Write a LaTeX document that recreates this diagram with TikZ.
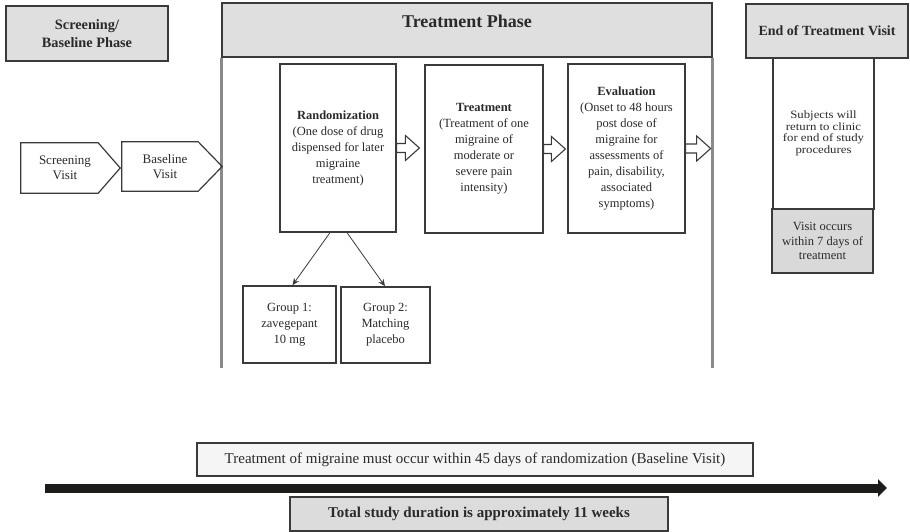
\documentclass[tikz,border=0pt]{standalone}
\usepackage{fontspec}
\setmainfont{Liberation Serif}
\newfontfamily\widefont[FakeStretch=1.14]{Liberation Serif}
\usetikzlibrary{arrows.meta,calc}
\definecolor{txt}{HTML}{2A2A2A}
\definecolor{edge}{HTML}{3A3A3A}
\definecolor{phasefill}{HTML}{DFDFDF}
\definecolor{visitfill}{HTML}{D9D9D9}
\definecolor{notefill}{HTML}{F5F5F5}
\definecolor{totalfill}{HTML}{DCDCDC}
\definecolor{vgray}{HTML}{8A8A8A}
\definecolor{timeline}{HTML}{1C1C1A}
\newcommand\fs[2]{\fontsize{#1}{#2}\selectfont}
\newcommand\blkarrow[2]{%
  \draw[blk] let \p1=(#1), \p2=(#2) in
    (\x1,\y1+4.5pt) -- (\x2-14pt,\y1+4.5pt) -- (\x2-14pt,\y1+12.5pt) -- (\x2,\y1)
    -- (\x2-14pt,\y1-12.5pt) -- (\x2-14pt,\y1-4.5pt) -- (\x1,\y1-4.5pt) -- cycle;}
\begin{document}
\begin{tikzpicture}[x=1pt,y=-1pt,
  every node/.style={text=txt, inner sep=0pt, align=center},
  phasebox/.style={draw=edge, line width=1.3pt, fill=phasefill},
  whitebox/.style={draw=edge, line width=1.2pt, fill=white},
  visit/.style={draw=edge, line width=1.2pt},
  blk/.style={draw=edge, line width=1.1pt, fill=white, line join=miter},
  vline/.style={draw=vgray, line width=2.4pt},
  grp/.style={draw=edge, line width=1.6pt, fill=white},
  thinarr/.style={draw=edge, line width=0.8pt, -{Stealth[length=7pt,width=6pt]}},
  bodyfont/.style={font=\fs{12.5}{16}}
]
\useasboundingbox (0,0) rectangle (910,532);

% Screening / baseline phase
\node[phasebox, minimum width=162pt, minimum height=55pt, font=\bfseries\fs{14.3}{18}] (sbphase) at (87,33.5) {Screening/\\Baseline Phase};

% Treatment phase
\node[phasebox, minimum width=490pt, minimum height=54pt,
  label={[font=\bfseries\fs{18}{20}, anchor=north, yshift=-12.8pt]north:Treatment Phase}] (tphase) at (467,30) {};
\coordinate (vb) at (0,368);
\draw[vline] (tphase.south west) -- (tphase.south west |- vb);
\draw[vline] (tphase.south east) -- (tphase.south east |- vb);

% Visits
\node[minimum width=88pt, minimum height=50pt, font=\fs{13}{15}] (scr) at (65,168) {Screening\\Visit};
\draw[visit] (scr.north west) -- ([xshift=-11pt]scr.north east) -- ([xshift=11pt]scr.east) -- ([xshift=-11pt]scr.south east) -- (scr.south west) -- cycle;
\node[minimum width=86pt, minimum height=49pt, font=\fs{13}{15}] (base) at (165,166.5) {Baseline\\Visit};
\draw[visit] (base.north west) -- ([xshift=-10pt]base.north east) -- ([xshift=14pt]base.east) -- ([xshift=-10pt]base.south east) -- (base.south west) -- cycle;

% Main steps
\node[whitebox, bodyfont, minimum width=116pt, minimum height=168pt] (rand) at (338,148) {\textbf{Randomization}\\(One dose of drug\\dispensed for later\\migraine\\treatment)};
\node[whitebox, bodyfont, minimum width=118pt, minimum height=168pt] (treat) at (484,149) {\textbf{Treatment}\\(Treatment of one\\migraine of\\moderate or\\severe pain\\intensity)};
\node[whitebox, bodyfont, minimum width=117pt, minimum height=169pt] (eval) at (626.5,148.5) {\textbf{Evaluation}\\(Onset to 48 hours\\post dose of\\migraine for\\assessments of\\pain, disability,\\associated\\symptoms)};

\blkarrow{rand.east}{$(rand.east -| treat.west)+(-5,0)$}
\blkarrow{treat.east}{$(treat.east -| eval.west)+(-2,0)$}
\blkarrow{eval.east}{$(eval.east -| tphase.east)+(-2,0)$}

% Groups
\node[grp, bodyfont, minimum width=93pt, minimum height=77pt] (g1) at (289.5,324.5) {Group 1:\\zavegepant\\10 mg};
\node[grp, bodyfont, minimum width=89pt, minimum height=76pt] (g2) at (385.5,325) {Group 2:\\Matching\\placebo};
\draw[thinarr] ([xshift=-8pt]rand.south) -- ([xshift=3pt]g1.north);
\draw[thinarr] ([xshift=9pt]rand.south) -- ([xshift=-0.5pt]g2.north);

% End of treatment visit
\node[phasebox, minimum width=162pt, minimum height=54pt, font=\bfseries\fs{14}{16}] (endph) at (827,31) {End of Treatment Visit};
\node[whitebox, minimum width=101pt, minimum height=151pt, font=\widefont\fs{11.2}{11.6}] (endbody) at (823.5,133.5) {Subjects will\\return to clinic\\for end of study\\procedures};
\node[phasebox, fill=visitfill, minimum width=101pt, minimum height=64pt, font=\fs{12.5}{14.5}] (endvisit) at (822.5,241) {Visit occurs\\within 7 days of\\treatment};

% Timeline
\coordinate (tstart) at (45,488);
\coordinate (tend) at (887,488);
\draw[draw=timeline, line width=9pt, -{Triangle[length=9pt,width=17pt]}] (tstart) -- (tend);
\node[draw=edge, line width=1.2pt, fill=notefill, minimum width=556pt, minimum height=33pt, font=\fs{15}{18}] (note) at (475,459.5) {Treatment of migraine must occur within 45 days of randomization (Baseline Visit)};
\node[draw=edge, line width=1.2pt, fill=totalfill, minimum width=378pt, minimum height=34pt, font=\bfseries\fs{15}{18}] (total) at (479,514) {Total study duration is approximately 11 weeks};
\end{tikzpicture}
\end{document}
